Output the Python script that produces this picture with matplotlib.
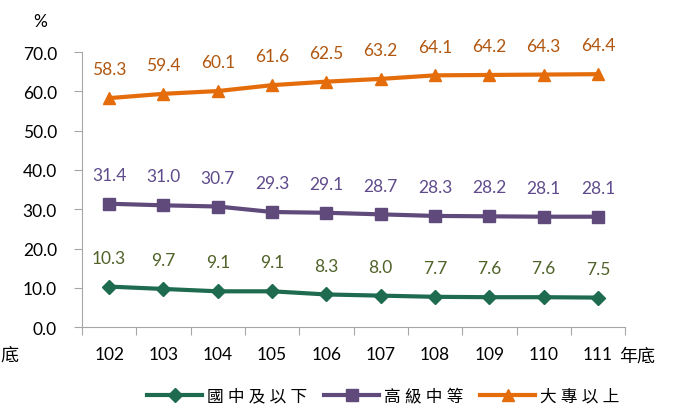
import numpy as np
import matplotlib
matplotlib.use('Agg')
from matplotlib import pyplot as plt

years = ['102', '103', '104', '105', '106', '107', '108', '109', '110', '111']
junior = [10.3, 9.7, 9.1, 9.1, 8.3, 8.0, 7.7, 7.6, 7.6, 7.5]
senior = [31.4, 31.0, 30.7, 29.3, 29.1, 28.7, 28.3, 28.2, 28.1, 28.1]
college = [58.3, 59.4, 60.1, 61.6, 62.5, 63.2, 64.1, 64.2, 64.3, 64.4]
names = ['國 中 及 以 下', '高 級 中 等', '大 專 以 上']

plt.rcParams['font.family'] = ['Lato', 'Noto Sans CJK TC', 'DejaVu Sans']

fig = plt.figure(figsize=(6.78, 4.06), dpi=100)
ax = fig.add_axes([0.121, 0.192, 0.801, 0.677])

x = np.arange(len(years))
series = [
    (junior, '#1E6B50', '#4F6228', 'D', 7),
    (senior, '#604A7B', '#5F4B8B', 's', 8),
    (college, '#E46C0A', '#B0560F', '^', 9),
]
for (vals, c, lc, m, ms), name in zip(series, names):
    ax.plot(x, vals, color=c, lw=3, marker=m, markersize=ms, label=name)
    for xi, v in zip(x, vals):
        ax.annotate(f'{v:.1f}', (xi, v), xytext=(0, 15), textcoords='offset points',
                    ha='center', va='bottom', fontsize=12.5, color=lc)

ax.set_xlim(-0.5, len(years) - 0.5)
ax.set_ylim(0, 70)
ax.set_yticks(np.arange(0, 71, 10))
ax.set_yticklabels([f'{v:.1f}' for v in range(0, 71, 10)])
ax.set_xticks(np.arange(-0.5, len(years), 1))
ax.set_xticklabels([])
ax.set_xticks(x, minor=True)
ax.set_xticklabels(years, minor=True)
ax.tick_params(axis='x', which='minor', length=0, pad=14, labelsize=12.5)
ax.tick_params(axis='x', which='major', length=6, color='#A6A6A6')
ax.tick_params(axis='y', length=6, color='#A6A6A6', labelsize=12.5, pad=12)

for s in ['top', 'right']:
    ax.spines[s].set_visible(False)
for s in ['left', 'bottom']:
    ax.spines[s].set_color('#A6A6A6')

fig.text(0.06, 0.945, '%', fontsize=12.5, ha='center', va='center')
fig.text(0.0, 0.125, '底', fontsize=13, ha='left', va='center')
fig.text(0.913, 0.122, '年底', fontsize=13, ha='left', va='center')

ax.legend(loc='center', bbox_to_anchor=(0.555, -0.25), ncol=3, frameon=False,
          fontsize=12, handlelength=3.3, columnspacing=1.0, handletextpad=0.3)

fig.savefig('out.png', dpi=100)
